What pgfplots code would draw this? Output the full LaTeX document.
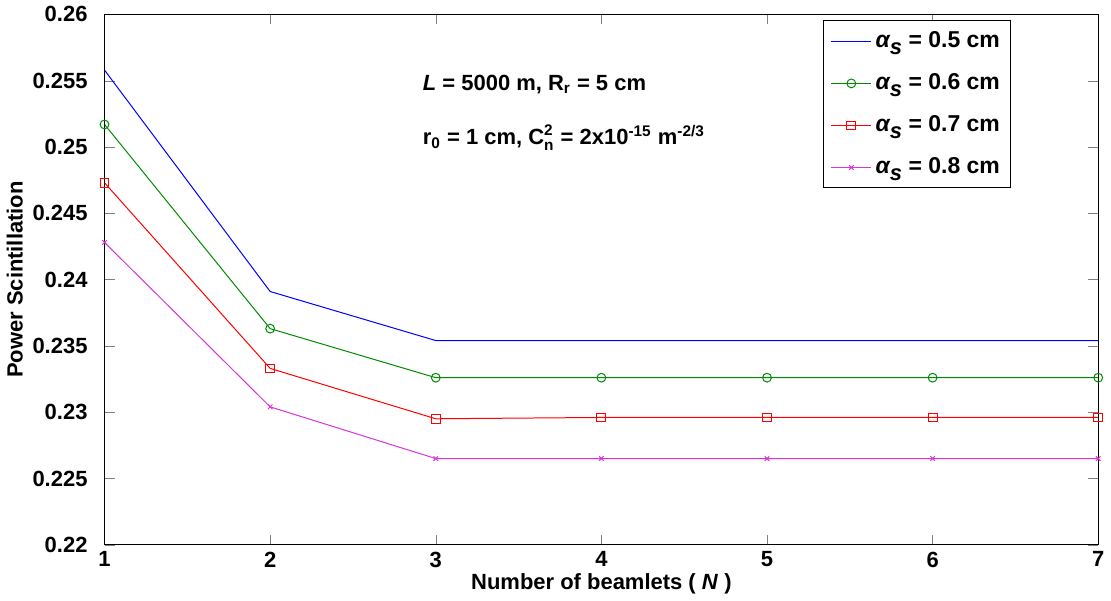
\documentclass[border=0pt]{standalone}
\usepackage{pgfplots}
\pgfplotsset{compat=1.18}
\usepackage{amsmath}
\usepackage{fontspec}
\setmainfont{Liberation Sans}
\newcommand{\alphas}{{\itshape α\raisebox{-0.55ex}{\fontsize{11}{13}\selectfont s}}}
\begin{document}
\begin{tikzpicture}
\begin{axis}[
  scale only axis,
  width=497.5pt, height=265.5pt,
  xmin=1, xmax=7, ymin=0.22, ymax=0.26,
  xtick={1,2,3,4,5,6,7},
  ytick={0.22,0.225,0.23,0.235,0.24,0.245,0.25,0.255,0.26},
  tick align=inside,
  tick pos=both,
  major tick length=5pt,
  /pgf/number format/assume math mode=true,
  yticklabel style={/pgf/number format/fixed,/pgf/number format/precision=3, xshift=-5pt},
  tick label style={font=\fontsize{11}{13}\selectfont\bfseries},
  scaled y ticks=false,
  xlabel={\bfseries Number of beamlets ( \textit{N} )},
  ylabel={\bfseries Power Scintillation},
  label style={font=\fontsize{11}{13}\selectfont},
  xlabel style={yshift=4pt},
  ylabel style={yshift=-2pt},
  axis line style={black, line width=0.6pt},
  legend style={at={(0.9126,0.9887)}, anchor=north east, draw=black, line width=0.5pt,
    font=\fontsize{11.5}{14}\selectfont\bfseries, row sep=7.5pt, inner sep=3.5pt},
  legend image code/.code={\draw[mark repeat=2,mark phase=2] plot coordinates {(0cm,0cm) (0.35cm,0cm) (0.7cm,0cm)};},
  legend cell align=left,
  every axis plot/.append style={line width=0.5pt},
]
\addplot[color=blue] coordinates {(1,0.2558) (2,0.2391) (3,0.2354) (4,0.2354) (5,0.2354) (6,0.2354) (7,0.2354)};
\addlegendentry{\alphas\ = 0.5 cm}
\addplot[color={rgb,1:red,0;green,0.55;blue,0}, mark=o, mark size=2.2pt, mark options={line width=0.5pt}] coordinates {(1,0.2517) (2,0.2363) (3,0.2326) (4,0.2326) (5,0.2326) (6,0.2326) (7,0.2326)};
\addlegendentry{\alphas\ = 0.6 cm}
\addplot[color=red, mark=square, mark size=2.2pt, mark options={red, line width=0.5pt}] coordinates {(1,0.2473) (2,0.2333) (3,0.2295) (4,0.2296) (5,0.2296) (6,0.2296) (7,0.2296)};
\addlegendentry{\alphas\ = 0.7 cm}
\addplot[color={rgb,1:red,0.85;green,0.2;blue,0.85}, mark=x, mark size=1.6pt, mark options={line width=0.5pt}] coordinates {(1,0.2428) (2,0.2304) (3,0.2265) (4,0.2265) (5,0.2265) (6,0.2265) (7,0.2265)};
\addlegendentry{\alphas\ = 0.8 cm}
\node[anchor=west, font=\fontsize{11}{13}\selectfont\bfseries, inner sep=0pt] at (axis cs:2.92,0.2547) {\textit{L} = 5000 m, R\textsubscript{r} = 5 cm};
\node[anchor=west, font=\fontsize{11}{13}\selectfont\bfseries, inner sep=0pt] at (axis cs:2.92,0.2507) {r\textsubscript{0} = 1 cm, $\text{C}^{\text{2}}_{\text{n}}$ = 2x10\textsuperscript{-15} m\textsuperscript{-2/3}};
\end{axis}
\end{tikzpicture}
\end{document}
